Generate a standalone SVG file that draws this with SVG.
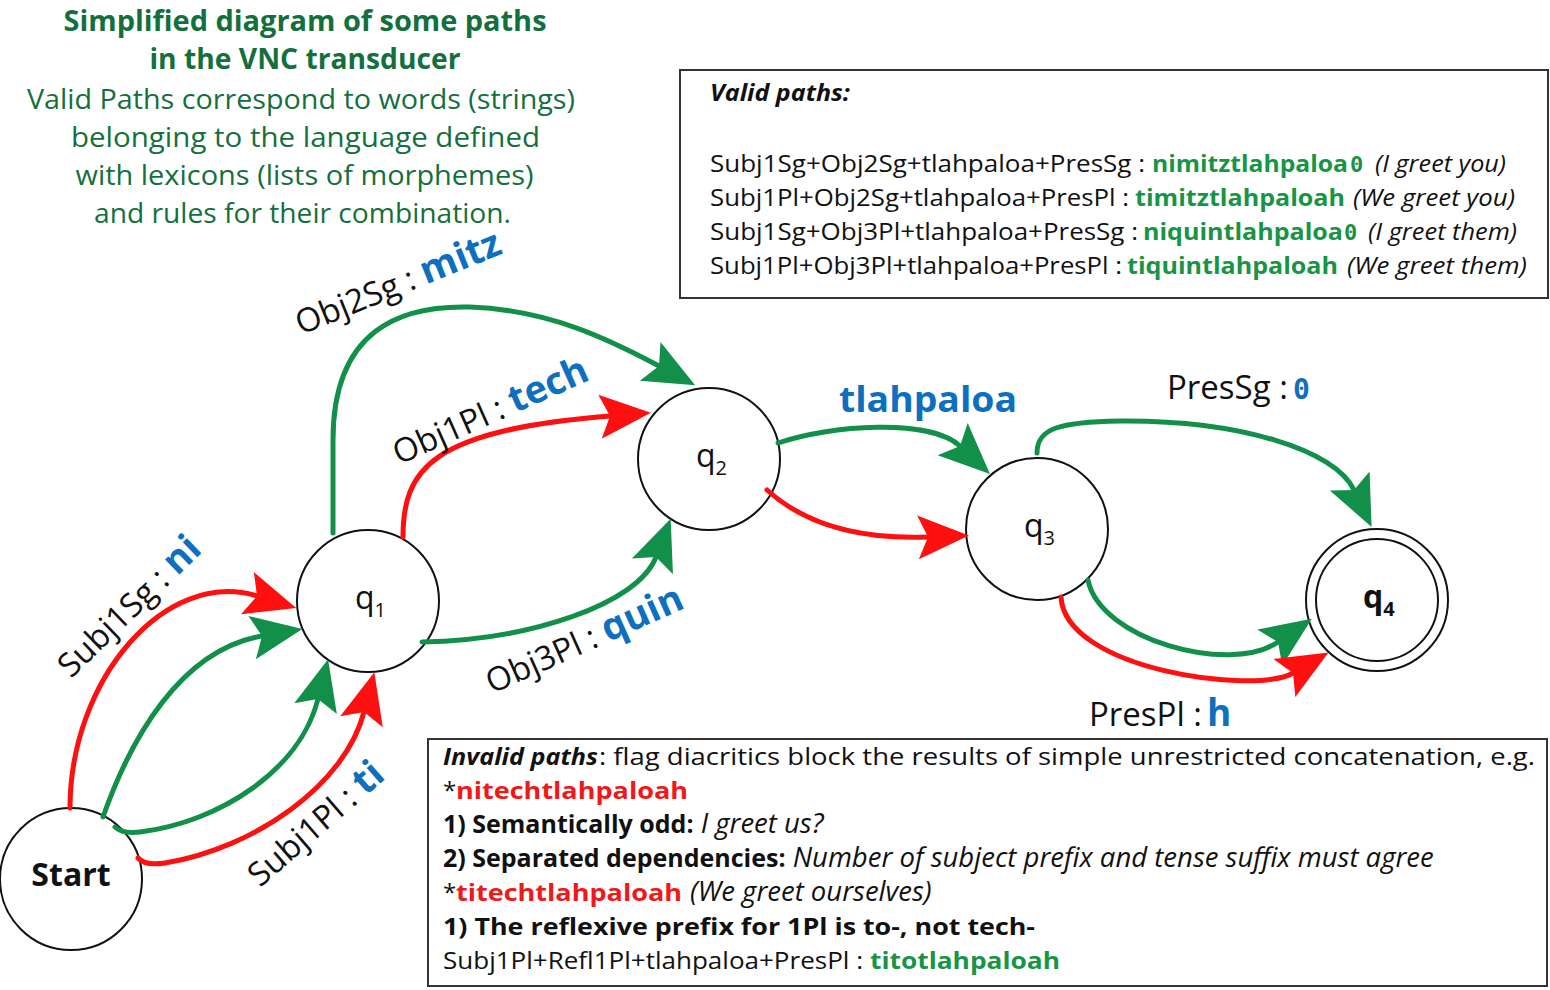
<svg xmlns="http://www.w3.org/2000/svg" width="1550" height="990" viewBox="0 0 1550 990">
<style>
text{font-family:"Open Sans","Liberation Sans",sans-serif;}
.t{fill:#13703d;font-size:28px;text-anchor:middle;}
.b{font-weight:bold;}
.i{font-style:italic;}
.bx{font-size:24px;fill:#111;}
.gw{fill:#189445;font-weight:bold;}
.rw{fill:#f01818;font-weight:bold;}
.lab{font-size:33px;fill:#111;}
.blue{fill:#0e6fbe;font-weight:bold;}
.z{font-family:"DejaVu Sans Mono","Liberation Mono",monospace;font-weight:bold;}
.node{fill:#fff;stroke:#111;stroke-width:2;}
.ql{font-size:32px;fill:#111;}
.box{fill:#fff;stroke:#333;stroke-width:2;}
.eg{fill:none;stroke:#12904a;stroke-width:5;stroke-linecap:round;marker-end:url(#ahG);}
.er{fill:none;stroke:#ff0f0f;stroke-width:5;stroke-linecap:round;marker-end:url(#ahR);}
</style>
<defs>
<marker id="ahG" markerUnits="userSpaceOnUse" viewBox="-12 -24 54 48" refX="0" refY="0" markerWidth="54" markerHeight="48" orient="auto" overflow="visible"><path d="M-10,-22 L41,0 L-10,22 L0,0 Z" fill="#12904a"/></marker>
<marker id="ahR" markerUnits="userSpaceOnUse" viewBox="-12 -24 54 48" refX="0" refY="0" markerWidth="54" markerHeight="48" orient="auto" overflow="visible"><path d="M-10,-22 L41,0 L-10,22 L0,0 Z" fill="#ff0f0f"/></marker>
</defs>
<rect width="1550" height="990" fill="#fff"/>

<g id="title">
<text class="t b" x="305" y="31" textLength="483" lengthAdjust="spacingAndGlyphs">Simplified diagram of some paths</text>
<text class="t b" x="305" y="69" textLength="311" lengthAdjust="spacingAndGlyphs">in the VNC transducer</text>
<text class="t" x="301" y="109" textLength="548" lengthAdjust="spacingAndGlyphs">Valid Paths correspond to words (strings)</text>
<text class="t" x="305.5" y="147" textLength="469" lengthAdjust="spacingAndGlyphs">belonging to the language defined</text>
<text class="t" x="304.5" y="185" textLength="458" lengthAdjust="spacingAndGlyphs">with lexicons (lists of morphemes)</text>
<text class="t" x="302.5" y="223" textLength="417" lengthAdjust="spacingAndGlyphs">and rules for their combination.</text>
</g>

<g id="valid-box">
<rect class="box" x="680" y="70" width="868" height="228"/>
<text class="bx b i" x="710" y="101" textLength="140" lengthAdjust="spacingAndGlyphs">Valid paths:</text>
<text class="bx" x="710" y="172" textLength="435" lengthAdjust="spacingAndGlyphs">Subj1Sg+Obj2Sg+tlahpaloa+PresSg :</text>
<text class="bx gw" x="1152" y="172" textLength="196" lengthAdjust="spacingAndGlyphs">nimitztlahpaloa</text>
<text class="bx gw z" x="1350" y="172" style="font-size:22px">0</text>
<text class="bx i" x="1375" y="172" textLength="131" lengthAdjust="spacingAndGlyphs">(I greet you)</text>
<text class="bx" x="710" y="206" textLength="419" lengthAdjust="spacingAndGlyphs">Subj1Pl+Obj2Sg+tlahpaloa+PresPl :</text>
<text class="bx gw" x="1135" y="206" textLength="210" lengthAdjust="spacingAndGlyphs">timitztlahpaloah</text>
<text class="bx i" x="1353" y="206" textLength="162" lengthAdjust="spacingAndGlyphs">(We greet you)</text>
<text class="bx" x="710" y="240" textLength="428" lengthAdjust="spacingAndGlyphs">Subj1Sg+Obj3Pl+tlahpaloa+PresSg :</text>
<text class="bx gw" x="1143" y="240" textLength="200" lengthAdjust="spacingAndGlyphs">niquintlahpaloa</text>
<text class="bx gw z" x="1344" y="240" style="font-size:22px">0</text>
<text class="bx i" x="1368" y="240" textLength="149" lengthAdjust="spacingAndGlyphs">(I greet them)</text>
<text class="bx" x="710" y="274" textLength="412" lengthAdjust="spacingAndGlyphs">Subj1Pl+Obj3Pl+tlahpaloa+PresPl :</text>
<text class="bx gw" x="1127" y="274" textLength="211" lengthAdjust="spacingAndGlyphs">tiquintlahpaloah</text>
<text class="bx i" x="1347" y="274" textLength="180" lengthAdjust="spacingAndGlyphs">(We greet them)</text>
</g>

<g id="invalid-box">
<rect class="box" x="428" y="739" width="1119" height="247"/>
<text class="bx b i" x="443" y="765" textLength="155" lengthAdjust="spacingAndGlyphs">Invalid paths</text>
<text class="bx" x="599" y="765" textLength="936" lengthAdjust="spacingAndGlyphs">: flag diacritics block the results of simple unrestricted concatenation, e.g.</text>
<text class="bx" x="443" y="799">*</text>
<text class="bx rw" x="456" y="799" textLength="232" lengthAdjust="spacingAndGlyphs">nitechtlahpaloah</text>
<text class="bx" x="443" y="833"><tspan class="b" font-size="25">1) Semantically odd:</tspan><tspan class="i" font-size="27.5"> I greet us?</tspan></text>
<text class="bx" x="443" y="867"><tspan class="b" font-size="25">2) Separated dependencies:</tspan><tspan class="i" font-size="27.5"> Number of subject prefix and tense suffix must agree</tspan></text>
<text class="bx" x="443" y="901">*</text>
<text class="bx rw" x="456" y="901" textLength="226" lengthAdjust="spacingAndGlyphs">titechtlahpaloah</text>
<text class="bx i" x="690" y="901" style="font-size:27.5px">(We greet ourselves)</text>
<text class="bx b" x="443" y="935" textLength="592" lengthAdjust="spacingAndGlyphs">1) The reflexive prefix for 1Pl is to-, not tech-</text>
<text class="bx" x="443" y="969" textLength="420" lengthAdjust="spacingAndGlyphs">Subj1Pl+Refl1Pl+tlahpaloa+PresPl :</text>
<text class="bx gw" x="870" y="969" textLength="190" lengthAdjust="spacingAndGlyphs">titotlahpaloah</text>
</g>

<g id="node-start"><circle class="node" cx="71" cy="879" r="71"/><text x="71" y="886" font-size="32" font-weight="bold" text-anchor="middle" fill="#111">Start</text></g>
<g id="node-q1"><circle class="node" cx="368" cy="601" r="71"/><text class="ql" x="355" y="609">q<tspan font-size="20" dy="8">1</tspan></text></g>
<g id="node-q2"><circle class="node" cx="709" cy="459" r="71"/><text class="ql" x="696" y="467">q<tspan font-size="20" dy="8">2</tspan></text></g>
<g id="node-q3"><circle class="node" cx="1037" cy="529" r="71"/><text class="ql" x="1024" y="537">q<tspan font-size="20" dy="8">3</tspan></text></g>
<g id="node-q4"><circle class="node" cx="1377" cy="600" r="71"/><circle class="node" cx="1377" cy="600" r="61"/><text class="ql" x="1363" y="608" font-weight="bold">q<tspan font-size="20" dy="8">4</tspan></text></g>

<g id="connectors">
<path class="er" d="M70,808 C70,680 165,568 257,596"/>
<path class="eg" d="M103,817 C130,740 180,650 262,636"/>
<path class="eg" d="M115,827 Q122,834 140,832 C220,822 300,770 318,699"/>
<path class="er" d="M138,858 Q145,866 165,863 C255,848 345,785 364,712"/>
<path class="eg" d="M333,533 L333,440 C333,330 400,305 470,307 C550,310 610,340 659,366"/>
<path class="er" d="M403,537 C403,470 430,430 610,416"/>
<path class="eg" d="M422,642 C530,640 638,604 656,557"/>
<path class="eg" d="M778,443 C830,425 930,418 960,446"/>
<path class="er" d="M767,490 C800,520 850,540 928,537"/>
<path class="eg" d="M1037,453 C1037,428 1060,422 1120,421 C1240,420 1335,450 1354,490"/>
<path class="eg" d="M1088,580 C1100,640 1230,675 1278,642"/>
<path class="er" d="M1061,597 C1065,670 1255,695 1293,673"/>
</g>

<g id="edge-labels">
<text class="lab" transform="translate(71,679) rotate(-44)">Subj1Sg : <tspan class="blue" font-size="38">ni</tspan></text>
<text class="lab" transform="translate(260,888) rotate(-41)">Subj1Pl : <tspan class="blue" font-size="38">ti</tspan></text>
<text class="lab" transform="translate(301,335) rotate(-22)">Obj2Sg : <tspan class="blue" font-size="38">mitz</tspan></text>
<text class="lab" transform="translate(399,465) rotate(-24)">Obj1Pl : <tspan class="blue" font-size="38">tech</tspan></text>
<text class="lab" transform="translate(492,694) rotate(-24)">Obj3Pl : <tspan class="blue" font-size="38">quin</tspan></text>
<text class="blue" x="839" y="412" font-size="35" textLength="178" lengthAdjust="spacingAndGlyphs">tlahpaloa</text>
<text class="lab" x="1167" y="399">PresSg :</text>
<text class="blue z" x="1293" y="399" font-size="28">0</text>
<text class="lab" x="1089" y="726">PresPl :</text>
<text class="blue" x="1207" y="726" font-size="37">h</text>
</g>
</svg>
